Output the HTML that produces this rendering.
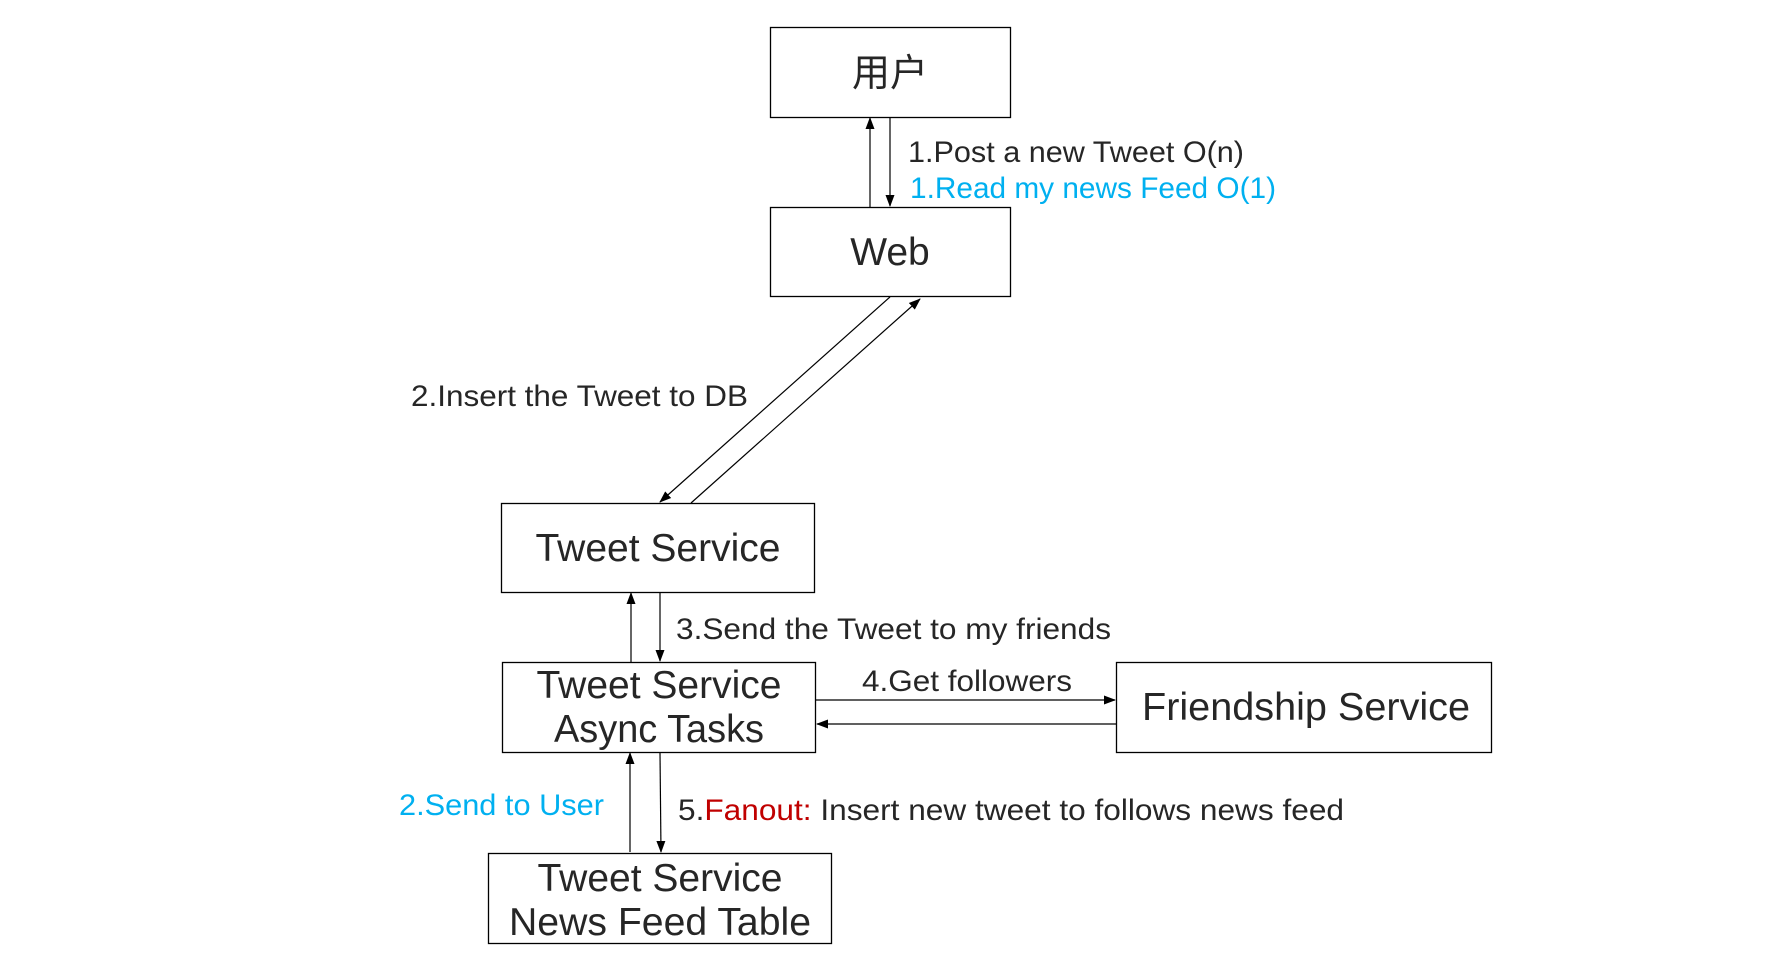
<!DOCTYPE html>
<html><head><meta charset="utf-8"><style>
html,body{margin:0;padding:0;background:#fff;width:1780px;height:977px;overflow:hidden}
text{font-family:"Liberation Sans","Noto Sans CJK SC",sans-serif;fill:#262626}
</style></head><body>
<svg width="1780" height="977" viewBox="0 0 1780 977" xmlns="http://www.w3.org/2000/svg">
<defs><marker id="a" markerWidth="12" markerHeight="12" refX="11" refY="6" orient="auto" markerUnits="userSpaceOnUse"><path d="M0,1.5 L12,6 L0,10.5 z" fill="#000"/></marker></defs>
<g fill="none" stroke="#000" stroke-width="1.3">
<rect x="770.5" y="27.5" width="240" height="90"/>
<rect x="770.5" y="207.5" width="240" height="89"/>
<rect x="501.5" y="503.5" width="313" height="89"/>
<rect x="502.5" y="662.5" width="313" height="90"/>
<rect x="1116.5" y="662.5" width="375" height="90"/>
<rect x="488.5" y="853.5" width="343" height="90"/>
</g>
<g stroke="#000" stroke-width="1.2" marker-end="url(#a)">
<line x1="870" y1="207" x2="870" y2="118"/>
<line x1="890" y1="118" x2="890" y2="206"/>
<line x1="890" y1="297" x2="660" y2="502"/>
<line x1="691" y1="503" x2="920" y2="299"/>
<line x1="631" y1="662" x2="631" y2="593"/>
<line x1="660" y1="593" x2="660" y2="661"/>
<line x1="816" y1="700" x2="1115" y2="700"/>
<line x1="1116" y1="724" x2="817" y2="724"/>
<line x1="630" y1="852" x2="630" y2="753"/>
<line x1="660" y1="753" x2="661" y2="852"/>
</g>
<g font-size="39" text-anchor="middle">
<text x="890" y="86" font-size="38">用户</text>
<text x="890" y="265">Web</text>
<text x="658" y="561" textLength="245" lengthAdjust="spacingAndGlyphs">Tweet Service</text>
<text x="659" y="698" textLength="245" lengthAdjust="spacingAndGlyphs">Tweet Service</text>
<text x="659" y="742" textLength="210" lengthAdjust="spacingAndGlyphs">Async Tasks</text>
<text x="1306" y="720" textLength="328" lengthAdjust="spacingAndGlyphs">Friendship Service</text>
<text x="660" y="891" textLength="245" lengthAdjust="spacingAndGlyphs">Tweet Service</text>
<text x="660" y="935" textLength="302" lengthAdjust="spacingAndGlyphs">News Feed Table</text>
</g>
<g font-size="30">
<text x="908" y="162" textLength="336" lengthAdjust="spacingAndGlyphs">1.Post a new Tweet O(n)</text>
<text x="910" y="198" textLength="366" lengthAdjust="spacingAndGlyphs" style="fill:#00b0f0">1.Read my news Feed O(1)</text>
<text x="411" y="406" textLength="337" lengthAdjust="spacingAndGlyphs">2.Insert the Tweet to DB</text>
<text x="676" y="639" textLength="435" lengthAdjust="spacingAndGlyphs">3.Send the Tweet to my friends</text>
<text x="862" y="691" textLength="210" lengthAdjust="spacingAndGlyphs">4.Get followers</text>
<text x="399" y="815" textLength="205" lengthAdjust="spacingAndGlyphs" style="fill:#00b0f0">2.Send to User</text>
<text x="678" y="820" textLength="666" lengthAdjust="spacingAndGlyphs">5.<tspan style="fill:#c00000">Fanout:</tspan> Insert new tweet to follows news feed</text>
</g>
</svg>
</body></html>
